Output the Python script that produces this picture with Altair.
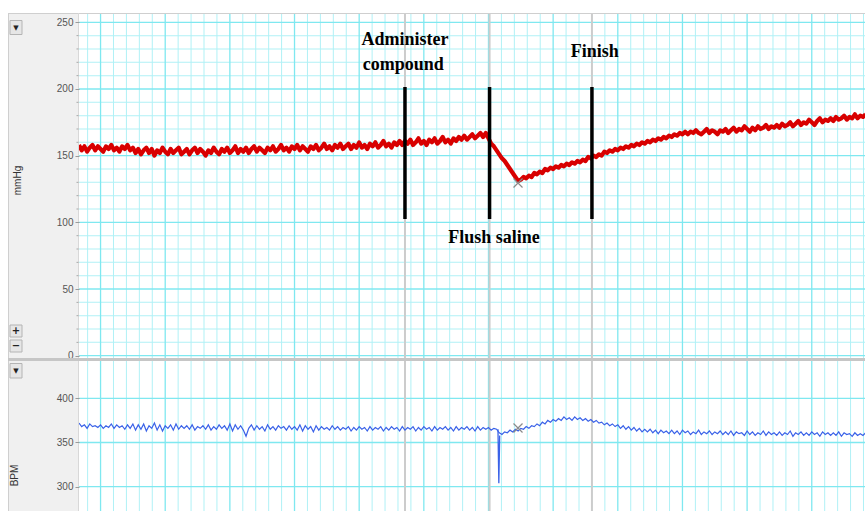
import altair as alt
import pandas as pd

# ---------------- data ----------------
STEP = 2.5  # seconds between samples

mmhg = [
    158, 154, 157, 153, 156, 158, 154, 157, 155, 153, 157, 155, 158, 154, 156, 153, 157, 155, 158, 154,
    156, 152, 155, 151, 154, 156, 152, 155, 150, 154, 152, 156, 153, 151, 155, 152, 154, 156, 151, 153,
    155, 151, 154, 156, 152, 155, 153, 150, 154, 152, 156, 153, 151, 155, 153, 156, 152, 154, 157, 152,
    155, 153, 156, 152, 155, 157, 153, 156, 154, 152, 156, 154, 157, 153, 155, 158, 154, 156, 153, 157,
    155, 158, 154, 157, 155, 153, 157, 155, 158, 154, 156, 159, 155, 157, 154, 158, 156, 159, 155, 157,
    159, 155, 158, 156, 160, 156, 158, 155, 159, 157, 160, 156, 158, 161, 157, 159, 156, 160, 158, 161,
    158, 161, 159, 162, 158, 160, 163, 159, 161, 158, 162, 160, 163, 159, 161, 164, 160, 162, 159, 163,
    161, 164, 162, 165, 162, 164, 166, 163, 165, 167, 164, 167, 163, 159, 157, 154, 151, 148, 146, 143,
    140, 137, 134, 131, 132, 134, 133, 135, 134, 137, 136, 138, 137, 140, 139, 141, 140, 142, 141, 143,
    142, 144, 143, 145, 144, 146, 145, 147, 146, 149, 148, 150, 149, 151, 150, 153, 152, 154, 153, 155,
    154, 156, 155, 157, 156, 158, 157, 159, 158, 160, 159, 161, 160, 162, 161, 163, 162, 164, 163, 165,
    164, 166, 165, 167, 166, 168, 166, 168, 167, 169, 167, 166, 168, 170, 167, 169, 168, 166, 169, 168,
    170, 167, 169, 171, 168, 170, 169, 172, 170, 168, 171, 169, 172, 170, 171, 173, 170, 172, 171, 173,
    171, 174, 172, 173, 175, 172, 174, 176, 173, 175, 174, 177, 175, 173, 176, 178, 175, 177, 176, 178,
    176, 179, 177, 178, 180, 177, 179, 178, 181, 178, 180, 179, 181,
]

bpm = [
    372, 368, 370, 366, 371, 368, 369, 367, 370, 366, 369, 367, 371, 366, 370, 367, 369, 365, 370, 366,
    371, 364, 370, 365, 371, 363, 369, 366, 372, 364, 370, 363, 369, 366, 370, 364, 371, 365, 369, 366,
    369, 365, 370, 364, 368, 366, 369, 365, 370, 364, 368, 365, 370, 366, 369, 364, 371, 363, 370, 365,
    369, 364, 357, 366, 370, 364, 369, 365, 368, 363, 370, 365, 368, 364, 369, 366, 368, 364, 369, 365,
    368, 364, 370, 363, 369, 365, 368, 362, 369, 364, 368, 365, 367, 364, 369, 365, 368, 364, 367, 365,
    368, 363, 367, 364, 368, 365, 367, 363, 368, 364, 367, 365, 368, 363, 367, 364, 368, 365, 367, 363,
    368, 364, 367, 365, 368, 363, 367, 364, 368, 365, 367, 363, 368, 364, 367, 365, 368, 364, 367, 363,
    368, 364, 367, 365, 368, 364, 367, 363, 368, 364, 367, 365, 367, 364, 366, 365, 361, 359, 362, 361,
    364, 362, 365, 363, 366, 365, 368, 366, 369, 368, 371, 369, 373, 371, 375, 373, 376, 374, 377, 375,
    379, 376, 378, 375, 379, 376, 378, 375, 377, 374, 376, 373, 375, 372, 373, 370, 372, 369, 371, 368,
    370, 366, 369, 365, 368, 364, 367, 363, 366, 362, 365, 362, 365, 361, 364, 360, 364, 361, 363, 360,
    364, 360, 363, 359, 364, 361, 363, 359, 362, 360, 364, 359, 362, 360, 363, 359, 362, 360, 363, 359,
    362, 359, 363, 358, 362, 360, 361, 358, 363, 359, 362, 358, 361, 359, 363, 358, 362, 359, 361, 358,
    362, 358, 361, 359, 363, 357, 361, 359, 362, 358, 361, 358, 362, 359, 361, 357, 362, 359, 361, 358,
    361, 358, 362, 357, 361, 359, 360, 357, 361, 358, 360, 358, 361,
]

spike_t = [388.8, 389.6, 390.4]
spike_bpm = [365, 304, 358]

event_t = [302.5, 381.0, 476.0]          # comment markers
bar_lo, bar_hi = 102.5, 201.5             # black bars (mmHg)

label_text = ["Administer", "compound", "Flush saline", "Finish"]
label_t = [302.6, 301.0, 385.2, 478.6]
label_mmhg = [237.0, 218.0, 88.0, 227.7]

cursor_t = [407.4]
cursor_mmhg = [129.5]
cursor_bpm = [366.4]

mmhg_ticks = [0, 50, 100, 150, 200, 250]
mmhg_minor = [v for v in range(0, 251, 10) if v % 50]
bpm_ticks = [300, 350, 400]

major_t = [20 + 60 * k for k in range(12)]
minor_t = [8 + 12 * k for k in range(61) if (8 + 12 * k - 20) % 60]

# ---------------- layout ----------------
W, H1, H2 = 786, 345, 153
MINOR = "#b0f1f6"
MAJOR = "#7fe8f0"
SIDE = "#f0f0f0"
EDGE = "#cfcfcf"

xs = alt.Scale(domain=[0, 729.4], nice=False, zero=False)
y1s = alt.Scale(domain=[-1.72, 256.97], nice=False, zero=False)
y2s = alt.Scale(domain=[272.5, 445.6], nice=False, zero=False)

def yaxis(vals, title, tx, ty):
    return alt.Axis(values=vals, tickSize=4, tickColor="#9a9a9a", labelPadding=2,
                    labelFont="Liberation Sans", labelFontSize=10, labelColor="#555555",
                    domain=False, grid=False, title=title, titleAngle=270,
                    titleX=tx, titleY=ty, titleAlign="center", titleBaseline="middle",
                    titleFont="Liberation Sans", titleFontSize=10, titleFontWeight="normal",
                    titleColor="#333333", zindex=2, labelOverlap=False)

ax1 = yaxis(mmhg_ticks, "mmHg", -62, 167)
ax2 = yaxis(bpm_ticks, "BPM", -64.5, 117)

one = pd.DataFrame({"a": [0]})
X = alt.X("t:Q", scale=xs, axis=None)

def box(x1, x2, y1, y2, fill, stroke=None):
    kw = {"fill": fill}
    if stroke:
        kw["stroke"] = stroke
        kw["strokeWidth"] = 1
    return alt.Chart(one).mark_rect(**kw).encode(
        x=alt.value(x1), x2=alt.value(x2), y=alt.value(y1), y2=alt.value(y2))

def glyph(ch, x, y, size, weight="normal"):
    return alt.Chart(one).mark_text(text=ch, fontSize=size, fontWeight=weight,
                                    font="DejaVu Sans", color="#222222",
                                    align="center", baseline="middle").encode(
        x=alt.value(x), y=alt.value(y))

def vgrid(ts, color, th, h):
    return alt.Chart(pd.DataFrame({"t": ts})).mark_tick(
        orient="vertical", size=h, thickness=th, color=color, opacity=1).encode(x=X)

def hgrid(vs, color, th, ys, ax):
    return alt.Chart(pd.DataFrame({"v": vs})).mark_tick(
        orient="horizontal", size=W, thickness=th, color=color, opacity=1).encode(
        y=alt.Y("v:Q", scale=ys, axis=ax))

# ---------------- top panel ----------------
df_p = pd.DataFrame({"t": [i * STEP for i in range(len(mmhg))], "v": mmhg})
df_bars = pd.DataFrame({"t": event_t, "lo": [bar_lo] * 3, "hi": [bar_hi] * 3})
df_lab = pd.DataFrame({"t": label_t, "v": label_mmhg, "s": label_text})
df_c1 = pd.DataFrame({"t": cursor_t, "v": cursor_mmhg})

red = alt.Chart(df_p).mark_line(color="#d80000", strokeWidth=4.2, clip=True,
                                strokeJoin="round").encode(
    x=X, y=alt.Y("v:Q", scale=y1s, axis=ax1))
bars = alt.Chart(df_bars).mark_rule(color="#000000", strokeWidth=3.5).encode(
    x=X, y=alt.Y("lo:Q", scale=y1s, axis=ax1), y2="hi:Q")
labs = alt.Chart(df_lab).mark_text(font="Liberation Serif", fontWeight="bold",
                                   fontSize=18, color="#000000", align="center",
                                   baseline="middle").encode(
    x=X, y=alt.Y("v:Q", scale=y1s, axis=ax1), text="s:N")
XSHAPE = "M-1,-1L1,1M-1,1L1,-1"
cur1 = alt.Chart(df_c1).mark_point(shape=XSHAPE, size=81, filled=False, opacity=1,
                                   color="#8a8a8a", strokeWidth=1.2).encode(
    x=X, y=alt.Y("v:Q", scale=y1s, axis=ax1))
minor_ticks1 = alt.Chart(pd.DataFrame({"v": mmhg_minor})).mark_rule(
    color="#a8a8a8", strokeWidth=1).encode(
    x=alt.value(-2.5), x2=alt.value(-0.5), y=alt.Y("v:Q", scale=y1s, axis=ax1))

top = alt.layer(
    box(-71, 0, 0, H1, SIDE),
    vgrid(minor_t, MINOR, 1, H1),
    hgrid(mmhg_minor, MINOR, 1, y1s, ax1),
    vgrid(major_t, MAJOR, 1.3, H1),
    hgrid(mmhg_ticks, MAJOR, 1.3, y1s, ax1),
    vgrid(event_t, "#cccccc", 2, H1),
    red, bars, labs, cur1,
    box(-71, W, 0, 1, EDGE),
    box(-71, -70, 0, H1, EDGE),
    box(-1, 0, 0, H1, "#d8d8d8"),
    box(-69, -57, 7.5, 21.5, "#e6e6e6", "#b4b4b4"),
    glyph("▼", -63, 14.5, 7),
    box(-69, -57, 312, 324, "#e6e6e6", "#b4b4b4"),
    glyph("+", -63, 318, 10, "bold"),
    box(-69, -57, 327, 339, "#e6e6e6", "#b4b4b4"),
    glyph("−", -63, 333, 10, "bold"),
    minor_ticks1,
).properties(width=W, height=H1)

# ---------------- bottom panel ----------------
df_b = pd.DataFrame({"t": [i * STEP for i in range(len(bpm))], "v": bpm})
df_s = pd.DataFrame({"t": spike_t, "v": spike_bpm})
df_c2 = pd.DataFrame({"t": cursor_t, "v": cursor_bpm})

blue = alt.Chart(df_b).mark_line(color="#3a62e8", strokeWidth=1.2, clip=True).encode(
    x=X, y=alt.Y("v:Q", scale=y2s, axis=ax2))
spike = alt.Chart(df_s).mark_line(color="#3a62e8", strokeWidth=1.3, clip=True).encode(
    x=X, y=alt.Y("v:Q", scale=y2s, axis=ax2))
cur2 = alt.Chart(df_c2).mark_point(shape=XSHAPE, size=81, filled=False, opacity=1,
                                   color="#8a8a8a", strokeWidth=1.2).encode(
    x=X, y=alt.Y("v:Q", scale=y2s, axis=ax2))

bottom = alt.layer(
    box(-71, 0, 0, H2, SIDE),
    vgrid(minor_t, MINOR, 1, H2),
    vgrid(major_t, MAJOR, 1.3, H2),
    hgrid(bpm_ticks, MAJOR, 1.3, y2s, ax2),
    vgrid(event_t, "#cccccc", 2, H2),
    blue, spike, cur2,
    box(-71, -70, 0, H2, EDGE),
    box(-1, 0, 0, H2, "#d8d8d8"),
    box(-71, W, 0, 3, "#c6c6c6"),
    box(-69, -57, 5.5, 20, "#e6e6e6", "#b4b4b4"),
    glyph("▼", -63, 12.8, 7),
).properties(width=W, height=H2)

chart = alt.vconcat(top, bottom, spacing=0, bounds="flush").properties(
    padding={"left": 8, "top": 13, "right": 0, "bottom": 0},
    background="white",
).configure_view(stroke=None)

chart.save("out.html", embed_options={"renderer": "svg", "actions": False})
